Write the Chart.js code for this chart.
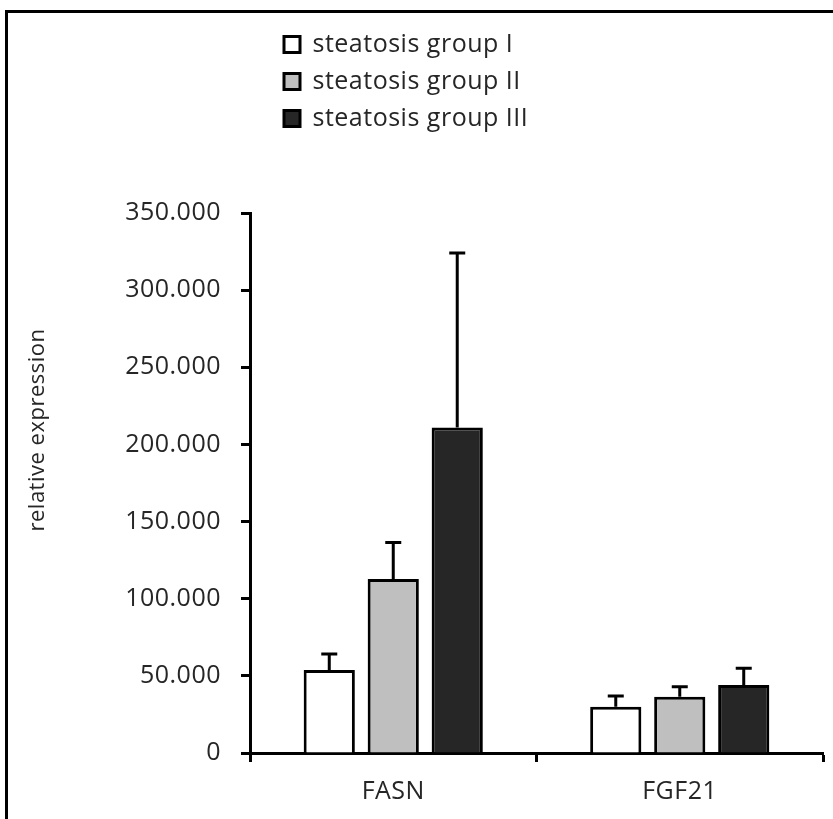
<!DOCTYPE html>
<html>
<head>
<meta charset="utf-8">
<script src="https://cdn.jsdelivr.net/npm/chart.js@4.4.0/dist/chart.umd.min.js"></script>
<style>
  html, body { margin: 0; padding: 0; background: #fff; }
  #wrap { position: relative; width: 833px; height: 819px; }
  #frame { position: absolute; left: 5px; top: 10px; right: 0; bottom: 0; border-left: 3px solid #000; border-top: 3px solid #000; pointer-events: none; }
</style>
</head>
<body>
<div id="wrap">
  <canvas id="chart" width="833" height="819"></canvas>
  <div id="frame"></div>
</div>
<script>
// values
var categories = ['FASN', 'FGF21'];
var groupNames = ['steatosis group I', 'steatosis group II', 'steatosis group III'];
var group1 = [53.8, 30.0];
var group1Err = [10.4, 7.0];
var group2 = [112.8, 36.5];
var group2Err = [23.6, 6.5];
var group3 = [211.0, 44.0];
var group3Err = [113.0, 11.0];
var yTickLabels = ['0', '50.000', '100.000', '150.000', '200.000', '250.000', '300.000', '350.000'];
var yTitle = 'relative expression';

var textColor = '#262626';
var fontFamily = '"Open Sans", "DejaVu Sans", sans-serif';

// the original text is a bit wider than Open Sans
var spacing = {
    id: 'spacing',
    beforeUpdate(chart) { chart.ctx.letterSpacing = '0.5px'; },
    beforeDraw(chart) { chart.ctx.letterSpacing = '0.5px'; }
};

// error bars (upper only), drawn through the y scale
var errorBars = {
    id: 'errorBars',
    afterDatasetsDraw(chart) {
        var ctx = chart.ctx;
        var yScale = chart.scales.y;
        chart.data.datasets.forEach(function(ds, i) {
            var meta = chart.getDatasetMeta(i);
            meta.data.forEach(function(bar, j) {
                var top = yScale.getPixelForValue(ds.data[j] + ds.errors[j]);
                ctx.save();
                ctx.strokeStyle = '#000';
                ctx.lineWidth = 3;
                ctx.beginPath();
                ctx.moveTo(bar.x, bar.y);
                ctx.lineTo(bar.x, top);
                ctx.moveTo(bar.x - 8, top);
                ctx.lineTo(bar.x + 8, top);
                ctx.stroke();
                ctx.restore();
            });
        });
    }
};

// stack the legend items and leave room above the plot
var legendLayout = {
    id: 'legendLayout',
    afterInit(chart) {
        var legend = chart.legend;
        var fit = legend.fit;
        legend.fit = function() {
            this.maxWidth = 300;
            fit.call(this);
            this.height = 193;
        };
    },
    afterLayout(chart) {
        var legend = chart.legend;
        legend.left += 22;
        legend.right = legend.left + 300;
        legend.width = 300;
    }
};

// rotated axis title
var yTitlePlugin = {
    id: 'yTitlePlugin',
    afterDraw(chart) {
        var ctx = chart.ctx;
        ctx.save();
        ctx.translate(38, 430);
        ctx.rotate(-Math.PI / 2);
        ctx.font = '22px ' + fontFamily;
        ctx.fillStyle = textColor;
        ctx.textAlign = 'center';
        ctx.textBaseline = 'middle';
        ctx.fillText(yTitle, 0, 0);
        ctx.restore();
    }
};

var chart = new Chart(document.getElementById('chart'), {
    type: 'bar',
    data: {
        labels: categories,
        datasets: [
            { label: groupNames[0], data: group1, errors: group1Err, backgroundColor: '#ffffff', borderColor: '#000', borderWidth: 3 },
            { label: groupNames[1], data: group2, errors: group2Err, backgroundColor: '#bfbfbf', borderColor: '#000', borderWidth: 3 },
            { label: groupNames[2], data: group3, errors: group3Err, backgroundColor: '#262626', borderColor: '#000', borderWidth: 3 }
        ]
    },
    options: {
        responsive: false,
        animation: false,
        barPercentage: 0.8,
        categoryPercentage: 0.67,
        layout: { padding: { left: 0, right: 10, top: 20, bottom: 0 } },
        plugins: {
            tooltip: { enabled: false },
            legend: {
                position: 'top',
                align: 'start',
                fullSize: false,
                labels: {
                    boxWidth: 16,
                    boxHeight: 16,
                    padding: 12,
                    color: textColor,
                    font: { family: fontFamily, size: 25 }
                }
            }
        },
        scales: {
            x: {
                offset: true,
                grid: { offset: true, drawOnChartArea: false, tickLength: 9, tickWidth: 3, tickColor: '#000' },
                border: { color: '#000', width: 3 },
                ticks: { color: textColor, font: { family: fontFamily, size: 25 }, padding: 15 },
                afterFit(s) { s.height = 66; }
            },
            y: {
                min: 0,
                max: 350,
                grid: { drawOnChartArea: false, tickLength: 9, tickWidth: 3, tickColor: '#000' },
                border: { color: '#000', width: 3 },
                ticks: {
                    stepSize: 50,
                    padding: 20,
                    color: textColor,
                    font: { family: fontFamily, size: 25 },
                    callback: function(v, i) { return yTickLabels[i]; }
                },
                afterFit(s) { s.width = 250; }
            }
        }
    },
    plugins: [spacing, errorBars, legendLayout, yTitlePlugin]
});
</script>
</body>
</html>
